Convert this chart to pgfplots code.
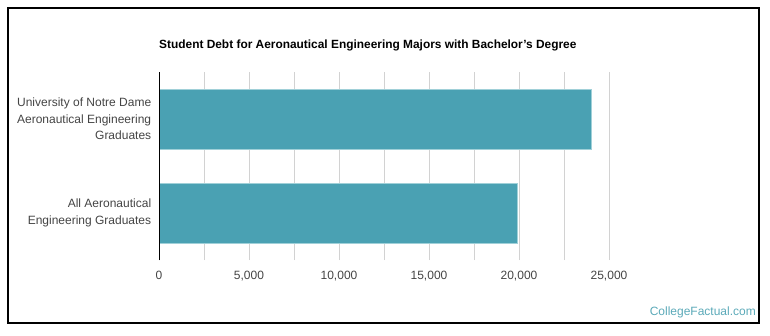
\documentclass[border=0pt]{standalone}
\usepackage{pgfplots}
\pgfplotsset{compat=1.18}
\usepackage{fontspec}
\setmainfont{Liberation Sans}
\definecolor{barc}{RGB}{74,161,179}
\definecolor{baredge}{RGB}{160,208,216}
\definecolor{gridc}{RGB}{210,210,210}
\definecolor{tickc}{RGB}{68,68,68}
\definecolor{cfc}{RGB}{90,169,184}
\begin{document}
\begin{tikzpicture}[x=1pt,y=1pt]
\useasboundingbox (0,0) rectangle (770,335);
\draw[line width=1.3pt] (8,12) rectangle (759,327);
\node[anchor=base west, font=\bfseries\fontsize{11.9}{13}\selectfont, text=black, inner sep=0] at (159,286) {Student Debt for Aeronautical Engineering Majors with Bachelor's Degree};
\node[anchor=base east, font=\fontsize{12}{14}\selectfont, text=cfc, inner sep=0] at (756,20) {CollegeFactual.com};
\begin{axis}[
  at={(159pt,75pt)}, anchor=south west,
  scale only axis, width=450pt, height=188pt,
  xmin=0, xmax=25000, ymin=-0.5, ymax=1.5,
  xbar, bar width=60pt,
  axis x line=none,
  axis y line*=left,
  y axis line style={black, line width=0.8pt},
  ytick={0,1},
  yticklabels={{All Aeronautical\\Engineering Graduates},{University of Notre Dame\\Aeronautical Engineering\\Graduates}},
  yticklabel style={align=right, font=\fontsize{12}{16.5}\selectfont, text=tickc},
  major y tick style={draw=none},
  clip=false,
]
\pgfplotsinvokeforeach{2500,5000,7500,10000,12500,15000,17500,20000,22500,25000}{
  \draw[gridc, line width=0.8pt] (axis cs:#1,-0.5) -- (axis cs:#1,1.5);
}
\pgfplotsinvokeforeach{0,5000,10000,15000,20000,25000}{
  \node[font=\fontsize{12}{14}\selectfont, text=tickc, anchor=base] at ([yshift=-19pt]axis cs:#1,-0.5) {\pgfmathprintnumber[1000 sep={,}, fixed, assume math mode=true]{#1}};
}
\addplot[fill=barc, draw=baredge, line width=0.6pt] coordinates {(19880,0) (24000,1)};
\draw[black, line width=0.8pt] (axis cs:0,-0.5) -- (axis cs:0,1.5);
\end{axis}
\end{tikzpicture}
\end{document}
